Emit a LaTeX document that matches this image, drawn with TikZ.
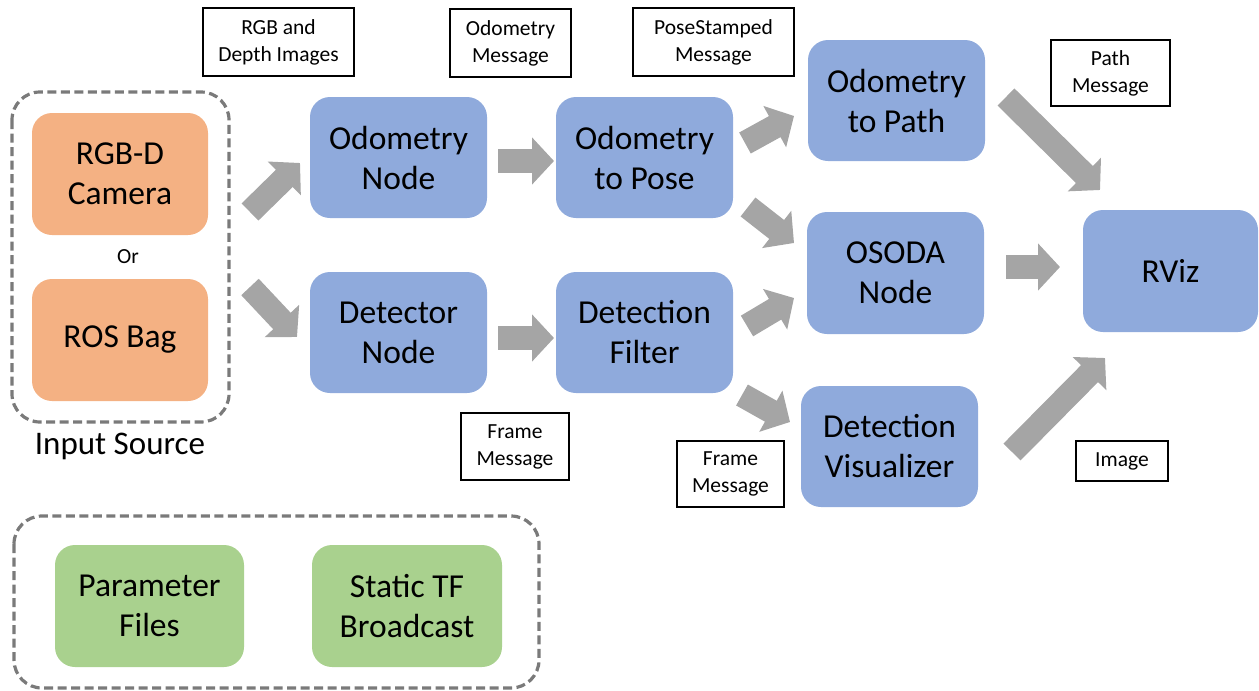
\documentclass[tikz,border=0pt]{standalone}
\usepackage{fontspec}
\setmainfont{Carlito}
\usetikzlibrary{arrows.meta}
\definecolor{nblue}{HTML}{8FAADC}
\definecolor{norange}{HTML}{F4B183}
\definecolor{ngreen}{HTML}{A9D18E}
\definecolor{agray}{HTML}{A5A5A5}
\definecolor{dgray}{HTML}{7A7A7A}
\begin{document}
\begin{tikzpicture}[x=1pt,y=-1pt,
  box/.style={rounded corners=20pt,inner sep=0pt,align=center,
    font=\fontsize{33.5}{40}\selectfont,text=black},
  bluebox/.style={box,fill=nblue},
  orangebox/.style={box,fill=norange},
  greenbox/.style={box,fill=ngreen},
  lbl/.style={draw=black,line width=1.1pt,fill=white,inner sep=0pt,align=center,
    font=\fontsize{21.5}{27}\selectfont},
  grp/.style={draw=dgray,line width=3.2pt,dash pattern=on 9pt off 4.5pt,rounded corners=28pt},
  blk/.style={draw=agray,line width=24pt,-{Triangle[width=46pt,length=22pt]}}]
\useasboundingbox (0,0) rectangle (1259,691);

% group boxes
\draw[grp] (12,92) rectangle (229,422);
\draw[grp] (14,516) rectangle (539,688);

% main nodes
\node[orangebox,minimum width=176pt,minimum height=122pt] (cam) at (120,174) {RGB-D\\Camera};
\node[orangebox,minimum width=176pt,minimum height=122pt] (bag) at (120,340) {ROS Bag};
\node[font=\fontsize{21.5}{24}\selectfont] (or) at (128,257) {Or};
\node[font=\fontsize{33}{36}\selectfont] (insrc) at (120,446) {Input Source};

\node[bluebox,minimum width=177pt,minimum height=121pt] (odom) at (398.5,157.5) {Odometry\\Node};
\node[bluebox,minimum width=177pt,minimum height=121pt] (pose) at (644.5,157.5) {Odometry\\to Pose};
\node[bluebox,minimum width=177pt,minimum height=121pt] (det) at (398.5,332.5) {Detector\\Node};
\node[bluebox,minimum width=177pt,minimum height=121pt] (filt) at (644.5,332.5) {Detection\\Filter};
\node[bluebox,minimum width=177pt,minimum height=121pt] (path) at (896.5,100.5) {Odometry\\to Path};
\node[bluebox,minimum width=177pt,minimum height=122pt] (osoda) at (895.5,273) {OSODA\\Node};
\node[bluebox,minimum width=177pt,minimum height=121pt] (vis) at (889.5,446.5) {Detection\\Visualizer};
\node[bluebox,minimum width=175pt,minimum height=122pt] (rviz) at (1170.5,271) {RViz};

\node[greenbox,minimum width=189pt,minimum height=122pt] (param) at (149.5,606) {Parameter\\Files};
\node[greenbox,minimum width=190pt,minimum height=122pt] (tf) at (407,606) {Static TF\\Broadcast};

% labels
\node[lbl,minimum width=151pt,minimum height=68pt] (lrgb) at (278.5,42) {RGB and\\Depth Images};
\node[lbl,minimum width=121pt,minimum height=68pt] (lodo) at (510.5,43) {Odometry\\Message};
\node[lbl,minimum width=161pt,minimum height=68pt] (lpose) at (713.5,42) {PoseStamped\\Message};
\node[lbl,minimum width=119pt,minimum height=66pt] (lpath) at (1110.5,73) {Path\\Message};
\node[lbl,minimum width=108pt,minimum height=67pt] (lfr1) at (515,446.5) {Frame\\Message};
\node[lbl,minimum width=107pt,minimum height=66pt] (lfr2) at (730.5,474) {Frame\\Message};
\node[lbl,minimum width=92pt,minimum height=40pt] (limg) at (1122,461) {Image};

% arrow end points
\coordinate (a1s) at (250,212); \coordinate (a1e) at (300,163);
\coordinate (a2s) at (250,287); \coordinate (a2e) at (297,337);
\coordinate (a3s) at (498,161); \coordinate (a3e) at (554,161);
\coordinate (a4s) at (498,338); \coordinate (a4e) at (554,338);
\coordinate (a5s) at (745,143); \coordinate (a5e) at (794,116);
\coordinate (a6s) at (748,207); \coordinate (a6e) at (794,243);
\coordinate (a7s) at (747,326); \coordinate (a7e) at (794,298);
\coordinate (a8s) at (742,395); \coordinate (a8e) at (790,422);
\coordinate (a9s) at (1006,267); \coordinate (a9e) at (1060,267);
\coordinate (a10s) at (1012,452); \coordinate (a10e) at (1105,358);
\coordinate (a11s) at (1006,97); \coordinate (a11e) at (1100,190);

\draw[blk] (a1s) -- (a1e);
\draw[blk] (a2s) -- (a2e);
\draw[blk] (a3s) -- (a3e);
\draw[blk] (a4s) -- (a4e);
\draw[blk] (a5s) -- (a5e);
\draw[blk] (a6s) -- (a6e);
\draw[blk] (a7s) -- (a7e);
\draw[blk] (a8s) -- (a8e);
\draw[blk] (a9s) -- (a9e);
\draw[blk] (a10s) -- (a10e);
\draw[blk] (a11s) -- (a11e);
\end{tikzpicture}
\end{document}
